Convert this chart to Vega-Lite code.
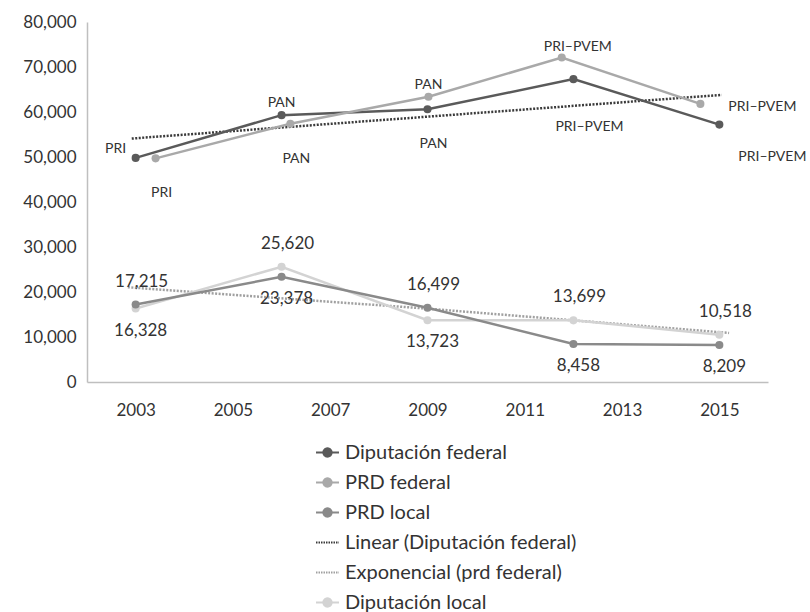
{
  "$schema": "https://vega.github.io/schema/vega-lite/v6.json",
  "autosize": "none",
  "width": 681,
  "height": 360,
  "padding": {"left": 87, "top": 22, "right": 42, "bottom": 230},
  "background": "white",
  "config": {
    "font": "Lato",
    "view": {"stroke": null},
    "axis": {"grid": false, "ticks": false, "domainColor": "#bfbfbf", "domainWidth": 1.5, "labelColor": "#333333", "labelFontSize": 17, "labelFont": "Lato"},
    "text": {"font": "Lato", "color": "#333333"}
  },
  "data": {
    "values": [
      {"series": "Diputación federal", "period": 2003, "year": 2003, "value": 49800, "label": "PRI"},
      {"series": "Diputación federal", "period": 2006, "year": 2006, "value": 59300, "label": "PAN"},
      {"series": "Diputación federal", "period": 2009, "year": 2009, "value": 60600, "label": "PAN"},
      {"series": "Diputación federal", "period": 2012, "year": 2012, "value": 67300, "label": "PRI–PVEM"},
      {"series": "Diputación federal", "period": 2015, "year": 2015, "value": 57200, "label": "PRI–PVEM"},
      {"series": "PRD federal", "period": 2003, "year": 2003.41, "value": 49700, "label": "PRI"},
      {"series": "PRD federal", "period": 2006, "year": 2006.18, "value": 57400, "label": "PAN"},
      {"series": "PRD federal", "period": 2009, "year": 2009.02, "value": 63400, "label": "PAN"},
      {"series": "PRD federal", "period": 2012, "year": 2011.76, "value": 72100, "label": "PRI–PVEM"},
      {"series": "PRD federal", "period": 2015, "year": 2014.61, "value": 61800, "label": "PRI–PVEM"},
      {"series": "Diputación local", "period": 2003, "year": 2003, "value": 16328},
      {"series": "Diputación local", "period": 2006, "year": 2006, "value": 25620},
      {"series": "Diputación local", "period": 2009, "year": 2009, "value": 13723},
      {"series": "Diputación local", "period": 2012, "year": 2012, "value": 13699},
      {"series": "Diputación local", "period": 2015, "year": 2015, "value": 10518},
      {"series": "PRD local", "period": 2003, "year": 2003, "value": 17215},
      {"series": "PRD local", "period": 2006, "year": 2006, "value": 23378},
      {"series": "PRD local", "period": 2009, "year": 2009, "value": 16499},
      {"series": "PRD local", "period": 2012, "year": 2012, "value": 8458},
      {"series": "PRD local", "period": 2015, "year": 2015, "value": 8209},
      {"series": "Linear (Diputación federal)", "period": 2003, "year": 2002.92, "value": 54100},
      {"series": "Linear (Diputación federal)", "period": 2015, "year": 2015.05, "value": 63800},
      {"series": "Exponencial (prd federal)", "period": 2003, "year": 2002.84, "value": 21060},
      {"series": "Exponencial (prd federal)", "period": 2006, "year": 2006, "value": 18600},
      {"series": "Exponencial (prd federal)", "period": 2009, "year": 2009, "value": 16300},
      {"series": "Exponencial (prd federal)", "period": 2012, "year": 2012, "value": 13700},
      {"series": "Exponencial (prd federal)", "period": 2015, "year": 2015.2, "value": 10900}
    ]
  },
  "encoding": {
    "x": {"field": "year", "type": "quantitative", "scale": {"domain": [2002, 2016], "nice": false, "zero": false}, "axis": {"title": null, "values": [2003, 2005, 2007, 2009, 2011, 2013, 2015], "format": "d", "labelPadding": 20}},
    "y": {"field": "value", "type": "quantitative", "scale": {"domain": [0, 80000], "nice": false}, "axis": {"title": null, "values": [0, 10000, 20000, 30000, 40000, 50000, 60000, 70000, 80000], "format": ",d", "labelPadding": 11}}
  },
  "layer": [
    {
      "transform": [{"filter": "indexof(['Linear (Diputación federal)','Exponencial (prd federal)'], datum.series) >= 0"}],
      "mark": {"type": "line", "strokeWidth": 2.5, "strokeDash": [2, 1.5]},
      "encoding": {
        "detail": {"field": "series"},
        "color": {"field": "series", "type": "nominal"}
      }
    },
    {
      "transform": [{"filter": "indexof(['Linear (Diputación federal)','Exponencial (prd federal)'], datum.series) < 0"}],
      "mark": {"type": "line", "strokeWidth": 2.5, "point": {"filled": true, "size": 65, "opacity": 1}},
      "encoding": {
        "color": {
          "field": "series", "type": "nominal",
          "scale": {
            "domain": ["Diputación federal", "PRD federal", "PRD local", "Linear (Diputación federal)", "Exponencial (prd federal)", "Diputación local"],
            "range": ["#5a5a5a", "#a9a9a9", "#8a8a8a", "#3a3a3a", "#a0a0a0", "#d3d3d3"]
          },
          "legend": {
            "title": null,
            "orient": "none",
            "legendX": 228,
            "legendY": 418,
            "labelFontSize": 20,
            "labelLimit": 400,
            "labelColor": "#333333",
            "labelFont": "Lato",
            "labelOffset": 5,
            "rowPadding": 7,
            "symbolSize": 529,
            "symbolStrokeWidth": 2,
            "encode": {
              "symbols": {
                "update": {
                  "shape": {"signal": "indexof(['Linear (Diputación federal)','Exponencial (prd federal)'], datum.value) >= 0 ? 'M-1,0H1' : 'M-1,0H1M0.36,0A0.36,0.36,0,1,1,-0.36,0A0.36,0.36,0,1,1,0.36,0'"},
                  "fill": {"scale": "color", "field": "value"},
                  "stroke": {"scale": "color", "field": "value"},
                  "strokeDash": {"signal": "indexof(['Linear (Diputación federal)','Exponencial (prd federal)'], datum.value) >= 0 ? [1.5, 1] : [1, 0]"},
                  "opacity": {"value": 1}
                }
              }
            }
          }
        }
      }
    },
    {
      "transform": [
        {"filter": "datum.series == 'Diputación federal' || datum.series == 'PRD federal'"},
        {"joinaggregate": [{"op": "max", "field": "value", "as": "mx"}], "groupby": ["period"]}
      ],
      "layer": [
        {"transform": [{"filter": "datum.value == datum.mx && datum.period > 2003 && datum.period < 2012"}], "mark": {"type": "text", "fontSize": 14, "dy": -12}, "encoding": {"text": {"field": "label"}}},
        {"transform": [{"filter": "datum.value == datum.mx && datum.period == 2012"}], "mark": {"type": "text", "fontSize": 14, "dx": 16, "dy": -11}, "encoding": {"text": {"field": "label"}}},
        {"transform": [{"filter": "datum.value == datum.mx && datum.period == 2003"}], "mark": {"type": "text", "fontSize": 14, "dx": -20, "dy": -9}, "encoding": {"text": {"field": "label"}}},
        {"transform": [{"filter": "datum.value == datum.mx && datum.period == 2015"}], "mark": {"type": "text", "fontSize": 14, "dx": 62, "dy": 3}, "encoding": {"text": {"field": "label"}}},
        {"transform": [{"filter": "datum.value < datum.mx && datum.period < 2012"}], "mark": {"type": "text", "fontSize": 14, "dx": 6, "dy": 35}, "encoding": {"text": {"field": "label"}}},
        {"transform": [{"filter": "datum.value < datum.mx && datum.period == 2012"}], "mark": {"type": "text", "fontSize": 14, "dx": 16, "dy": 48}, "encoding": {"text": {"field": "label"}}},
        {"transform": [{"filter": "datum.value < datum.mx && datum.period == 2015"}], "mark": {"type": "text", "fontSize": 14, "dx": 53, "dy": 32}, "encoding": {"text": {"field": "label"}}}
      ]
    },
    {
      "transform": [
        {"filter": "datum.series == 'Diputación local' || datum.series == 'PRD local'"},
        {"joinaggregate": [{"op": "max", "field": "value", "as": "mx"}], "groupby": ["period"]}
      ],
      "layer": [
        {"transform": [{"filter": "datum.value == datum.mx"}], "mark": {"type": "text", "fontSize": 17, "dx": 6, "dy": -23}, "encoding": {"text": {"field": "value", "format": ",d"}}},
        {"transform": [{"filter": "datum.value < datum.mx"}], "mark": {"type": "text", "fontSize": 17, "dx": 5, "dy": 22}, "encoding": {"text": {"field": "value", "format": ",d"}}}
      ]
    }
  ]
}
